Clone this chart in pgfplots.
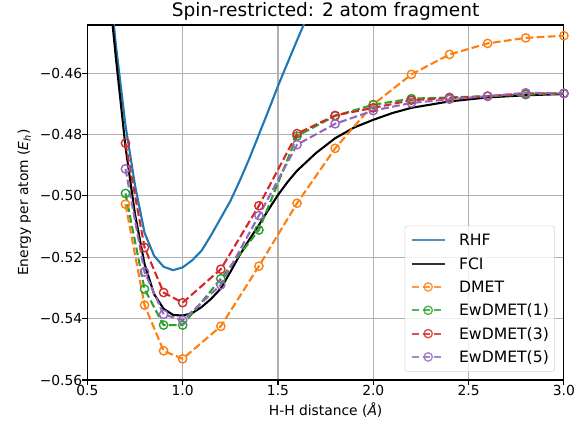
\documentclass[border=0pt]{standalone}
\usepackage{pgfplots}
\pgfplotsset{compat=1.18}
\usepackage{fontspec}
\setmainfont{DejaVu Sans}
\definecolor{tabblue}{HTML}{1F77B4}
\definecolor{taborange}{HTML}{FF7F0E}
\definecolor{tabgreen}{HTML}{2CA02C}
\definecolor{tabred}{HTML}{D62728}
\definecolor{tabpurple}{HTML}{9467BD}
\definecolor{gridgray}{HTML}{B0B0B0}
\definecolor{leggray}{HTML}{CCCCCC}
\begin{document}
\begin{tikzpicture}
\useasboundingbox (-62.9bp,-36bp) rectangle (359.74bp,273.6bp);
\begin{axis}[
  scale only axis, width=343.1bp, height=255.6bp,
  xmin=0.5, xmax=3.0, ymin=-0.56, ymax=-0.4443,
  xtick={0.5,1,1.5,2,2.5,3},
  xticklabels={0.5,1.0,1.5,2.0,2.5,3.0},
  ytick={-0.56,-0.54,-0.52,-0.50,-0.48,-0.46},
  yticklabels={−0.56,−0.54,−0.52,−0.50,−0.48,−0.46},
  grid=major, grid style={color=gridgray, line width=0.8bp},
  axis line style={line width=0.8bp},
  tick align=outside, tick pos=left, major tick length=3.5bp,
  tick style={black, line width=0.8bp},
  xticklabel style={anchor=north, inner sep=0pt, font=\fontsize{10}{12}\selectfont},
  yticklabel style={anchor=east, inner sep=0pt, font=\fontsize{10}{12}\selectfont},
  title={Spin-restricted: 2 atom fragment},
  every axis title shift=0pt,
  title style={at={(axis description cs:0.5,1.0235)}, anchor=base, yshift=0pt, inner sep=0pt, font=\fontsize{13.4}{16}\selectfont},
  xlabel={H-H distance (\textit{Å})},
  xlabel style={at={(axis description cs:0.5,-0.0986)}, anchor=base, inner sep=0pt, font=\fontsize{10}{12}\selectfont},
  ylabel={Energy per atom (\textit{E}\textsubscript{\textit{h}})},
  ylabel style={at={(axis description cs:-0.1242,0.5)}, anchor=base, inner sep=0pt, font=\fontsize{10}{12}\selectfont},
  legend cell align=left,
  legend style={at={(axis description cs:0.9813,0.0234)}, anchor=south east,
    draw=leggray, fill=white, fill opacity=0.8, draw opacity=0.8, text opacity=1,
    rounded corners=2bp, inner xsep=4.2bp, inner ysep=6.3bp,
    font=\fontsize{11.3}{13.5}\selectfont,
    nodes={inner sep=0pt, text height=8.2bp, text depth=0bp},
    row sep=8.6bp, column sep=9.6bp},
  legend image code/.code={\draw[mark repeat=2, mark phase=2, #1] plot coordinates {(0bp,0bp) (11.9bp,0bp) (23.8bp,0bp)};},
  every axis plot/.append style={line width=1.5bp},
  dmet/.style={dash pattern=on 5.55bp off 2.4bp, mark=o, mark size=3bp, mark options={solid, line width=1bp, fill=none}},
]
% RHF
\addplot[color=tabblue] coordinates {
(0.60,-0.420) (0.65,-0.4510) (0.70,-0.4770) (0.75,-0.4965) (0.80,-0.5120) (0.85,-0.5195)
(0.90,-0.5231) (0.95,-0.5242) (1.00,-0.5233) (1.05,-0.5210) (1.10,-0.5178) (1.15,-0.5127)
(1.20,-0.5072) (1.25,-0.5017) (1.30,-0.4950) (1.35,-0.4878) (1.40,-0.4800) (1.45,-0.4722)
(1.50,-0.4642) (1.55,-0.4567) (1.60,-0.4493) (1.65,-0.4420) (1.70,-0.4350)
};
\addlegendentry{RHF}
% FCI
\addplot[color=black] coordinates {
(0.60,-0.424) (0.65,-0.4552) (0.70,-0.4840) (0.75,-0.5060) (0.80,-0.5222) (0.85,-0.5320)
(0.90,-0.5368) (0.95,-0.5388) (1.00,-0.5390) (1.05,-0.5382) (1.10,-0.5362) (1.15,-0.5335)
(1.20,-0.5302) (1.25,-0.5248) (1.30,-0.5192) (1.35,-0.5142) (1.40,-0.5095) (1.45,-0.5045)
(1.50,-0.4997) (1.55,-0.4955) (1.60,-0.4918) (1.70,-0.4860) (1.80,-0.4812) (1.90,-0.4777)
(2.00,-0.4752) (2.10,-0.4730) (2.20,-0.4713) (2.40,-0.4692) (2.60,-0.4679) (2.80,-0.4672)
(3.00,-0.4668)
};
\addlegendentry{FCI}
% DMET
\addplot[color=taborange, dmet] coordinates {
(0.7,-0.5027) (0.8,-0.5356) (0.9,-0.5505) (1.0,-0.5531) (1.2,-0.5425) (1.4,-0.5229)
(1.6,-0.5024) (1.8,-0.4845) (2.0,-0.4702) (2.2,-0.4604) (2.4,-0.4539) (2.6,-0.4503)
(2.8,-0.4485) (3.0,-0.4478)
};
\addlegendentry{DMET}
% EwDMET(1)
\addplot[color=tabgreen, dmet] coordinates {
(0.7,-0.4992) (0.8,-0.5304) (0.9,-0.5421) (1.0,-0.5421) (1.2,-0.5270) (1.4,-0.5111)
(1.6,-0.4805) (1.8,-0.4739) (2.0,-0.4703) (2.2,-0.4683) (2.4,-0.4679) (2.6,-0.4675)
(2.8,-0.4670) (3.0,-0.4666)
};
\addlegendentry{EwDMET(1)}
% EwDMET(3)
\addplot[color=tabred, dmet] coordinates {
(0.7,-0.4828) (0.8,-0.5168) (0.9,-0.5315) (1.0,-0.5348) (1.2,-0.5239) (1.4,-0.5032)
(1.6,-0.4797) (1.8,-0.4738) (2.0,-0.4713) (2.2,-0.4688) (2.4,-0.4681) (2.6,-0.4675)
(2.8,-0.4666) (3.0,-0.4666)
};
\addlegendentry{EwDMET(3)}
% EwDMET(5)
\addplot[color=tabpurple, dmet] coordinates {
(0.7,-0.4912) (0.8,-0.5248) (0.9,-0.5386) (1.0,-0.5405) (1.2,-0.5290) (1.4,-0.5064)
(1.6,-0.4833) (1.8,-0.4765) (2.0,-0.4722) (2.2,-0.4697) (2.4,-0.4685) (2.6,-0.4675)
(2.8,-0.4664) (3.0,-0.4666)
};
\addlegendentry{EwDMET(5)}
\end{axis}
\end{tikzpicture}
\end{document}
